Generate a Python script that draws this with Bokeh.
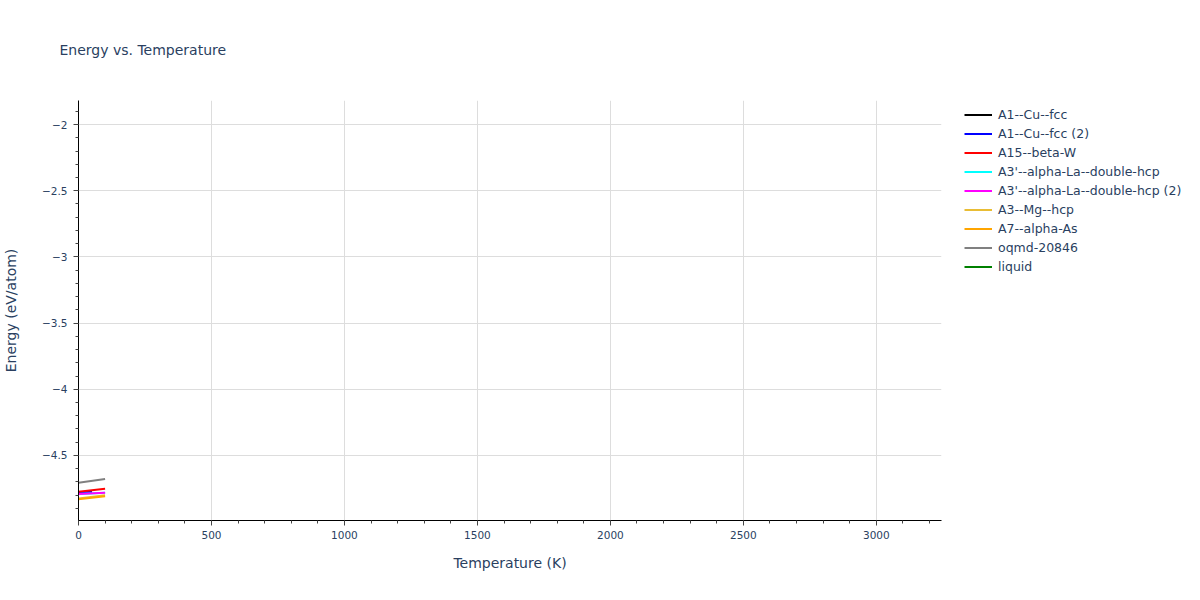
from bokeh.plotting import figure
from bokeh.models import (Legend, LegendItem, Range1d, CustomJSTickFormatter,
                          Title, FixedTicker, ColumnDataSource)
from bokeh.embed import file_html
from bokeh.resources import INLINE

nan = float("nan")

names = ["A1--Cu--fcc", "A1--Cu--fcc (2)", "A15--beta-W",
         "A3'--alpha-La--double-hcp", "A3'--alpha-La--double-hcp (2)",
         "A3--Mg--hcp", "A7--alpha-As", "oqmd-20846", "liquid"]
colors = ["black", "blue", "red", "cyan", "magenta", "#e9bd35", "orange", "gray", "green"]

t_a1 = [0, 50]
e_a1 = [-4.782, -4.776]
t_a1_2 = [0, 50]
e_a1_2 = [-4.782, -4.776]
t_a15 = [0, 100]
e_a15 = [-4.775, -4.752]
t_a3p = [0, 100]
e_a3p = [-4.792, -4.782]
t_a3p_2 = [0, 100]
e_a3p_2 = [-4.792, -4.782]
t_a3 = [0, 100]
e_a3 = [-4.826, -4.802]
t_a7 = [0, 100]
e_a7 = [-4.832, -4.808]
t_oqmd = [0, 100]
e_oqmd = [-4.706, -4.678]
t_liquid = [0, 3245]
e_liquid = [nan, nan]

series_t = [t_a1, t_a1_2, t_a15, t_a3p, t_a3p_2, t_a3, t_a7, t_oqmd, t_liquid]
series_e = [e_a1, e_a1_2, e_a15, e_a3p, e_a3p_2, e_a3, e_a7, e_oqmd, e_liquid]

x_ticks = [0, 500, 1000, 1500, 2000, 2500, 3000]
y_ticks = [-4.5, -4, -3.5, -3, -2.5, -2]

FONT = "DejaVu Sans"
TXT = "#2a3f5f"

p = figure(frame_width=863, frame_height=420, output_backend="svg", toolbar_location=None,
           x_range=Range1d(0, 3245), y_range=Range1d(-4.992, -1.818),
           min_border_left=73, min_border_right=0, min_border_top=100,
           min_border_bottom=72, background_fill_color="white",
           border_fill_color="white", outline_line_color=None)

items = []
for name, col, t, e in zip(names, colors, series_t, series_e):
    src = ColumnDataSource(dict(x=t, y=e))
    r = p.line("x", "y", source=src, line_color=col, line_width=2)
    items.append(LegendItem(label=name, renderers=[r]))

legend = Legend(items=items, location=(23, 244), label_text_font=FONT,
                label_text_font_size="12.5px", label_text_color=TXT,
                border_line_color=None, background_fill_alpha=0,
                glyph_width=28, glyph_height=19, label_height=19, spacing=0,
                padding=0, margin=0, label_standoff=6)
p.add_layout(legend, "right")

fmt = CustomJSTickFormatter(code="return String(tick).replace('-', '\u2212');")
for ax, ticks in ((p.xaxis[0], x_ticks), (p.yaxis[0], y_ticks)):
    ax.formatter = fmt
    ax.major_label_text_font = FONT
    ax.major_label_text_font_size = "10.5px"
    ax.major_label_text_color = TXT
    ax.axis_label_text_font = FONT
    ax.axis_label_text_font_size = "14px"
    ax.axis_label_text_color = TXT
    ax.axis_label_text_font_style = "normal"
    ax.axis_line_color = "black"
    ax.axis_line_width = 1
    ax.major_tick_line_color = "#444"
    ax.minor_tick_line_color = "#444"
    ax.major_tick_out = 5
    ax.major_tick_in = 0
    ax.minor_tick_out = 3
    ax.minor_tick_in = 0

p.xaxis[0].ticker = FixedTicker(ticks=x_ticks, minor_ticks=list(range(0, 3300, 100)))
p.yaxis[0].ticker = FixedTicker(ticks=y_ticks, minor_ticks=[round(-4.9 + 0.1 * i, 1) for i in range(31)])
p.xaxis[0].axis_label = "Temperature (K)"
p.yaxis[0].axis_label = "Energy (eV/atom)"
p.xaxis[0].major_label_standoff = 5
p.yaxis[0].major_label_standoff = 6
p.xaxis[0].axis_label_standoff = 13
p.yaxis[0].axis_label_standoff = 20

p.xgrid.grid_line_color = "#dddddd"
p.ygrid.grid_line_color = "#dddddd"
p.xgrid.ticker = FixedTicker(ticks=x_ticks[1:])
p.ygrid.ticker = FixedTicker(ticks=y_ticks)

p.title = Title(text="Energy vs. Temperature", text_font=FONT, text_font_size="14px",
                text_color=TXT, text_font_style="normal", align="left",
                vertical_align="top", offset=-19, standoff=82)

open("out.html", "w").write(file_html(p, INLINE))
